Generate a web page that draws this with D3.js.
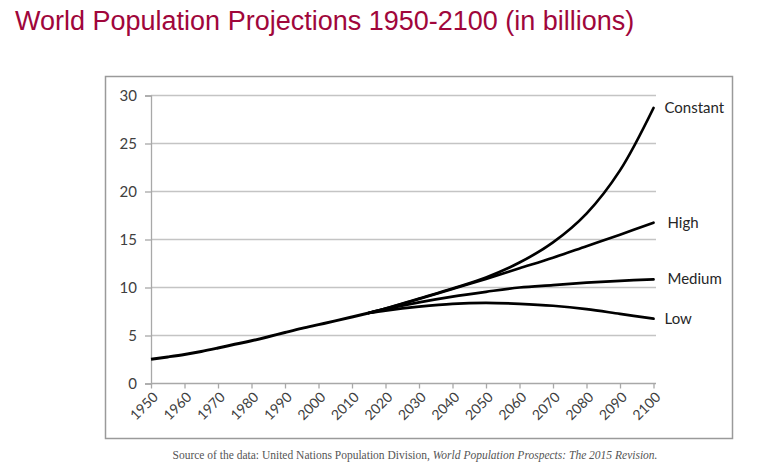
<!DOCTYPE html>
<html>
<head>
<meta charset="utf-8">
<script src="https://d3js.org/d3.v7.min.js"></script>
<style>
  body { margin: 0; background: #fff; }
  svg { display: block; }
</style>
</head>
<body>
<svg width="778" height="469"></svg>
<script>
// estimated (billions)
var histYears = [1950, 1955, 1960, 1965, 1970, 1975, 1980, 1985, 1990, 1995, 2000, 2005, 2010, 2015];
var histValues = [2.53, 2.77, 3.03, 3.34, 3.70, 4.08, 4.45, 4.87, 5.31, 5.74, 6.13, 6.52, 6.93, 7.35];

var projYears = [2015, 2020, 2030, 2040, 2050, 2060, 2070, 2080, 2090, 2100];
var constantValues = [7.35, 7.8, 8.85, 9.9, 11.05, 12.6, 14.7, 17.7, 22.2, 28.7];
var highValues     = [7.35, 7.8, 8.8, 9.85, 10.9, 12.0, 13.1, 14.3, 15.5, 16.75];
var mediumValues   = [7.35, 7.75, 8.45, 9.05, 9.55, 10.0, 10.25, 10.5, 10.7, 10.85];
var lowValues      = [7.35, 7.6, 8.0, 8.3, 8.4, 8.3, 8.1, 7.75, 7.25, 6.75];

var seriesNames = ['Constant', 'High', 'Medium', 'Low'];
var tickYears = [1950, 1960, 1970, 1980, 1990, 2000, 2010, 2020, 2030, 2040, 2050, 2060, 2070, 2080, 2090, 2100];
var yTicks = [0, 5, 10, 15, 20, 25, 30];

var svg = d3.select('svg');

// title
svg.append('text')
  .attr('x', 15).attr('y', 30)
  .attr('font-family', 'Liberation Sans, Arial, sans-serif')
  .attr('font-size', 27)
  .attr('fill', '#a0063b')
  .text('World Population Projections 1950-2100 (in billions)');

// frame
svg.append('rect')
  .attr('x', 105.5).attr('y', 76.5)
  .attr('width', 627).attr('height', 362)
  .attr('fill', 'none')
  .attr('stroke', '#9a9a9a')
  .attr('stroke-width', 1.5);

var x = d3.scaleLinear().domain([1950, 2100]).range([151, 653.5]);
var y = d3.scaleLinear().domain([0, 30]).range([383.5, 95.5]);

// gridlines
svg.append('g')
  .selectAll('line')
  .data(yTicks.filter(function(d) { return d > 0; }))
  .enter().append('line')
  .attr('x1', 151).attr('x2', 656)
  .attr('y1', function(d) { return y(d); })
  .attr('y2', function(d) { return y(d); })
  .attr('stroke', '#c4c4c4')
  .attr('stroke-width', 1.3);

// y axis
var yAxis = svg.append('g')
  .attr('transform', 'translate(151,0)')
  .call(d3.axisLeft(y).tickValues(yTicks).tickSize(6).tickPadding(8));
yAxis.select('.domain').attr('stroke', '#a8a8a8').attr('stroke-width', 1.3);
yAxis.selectAll('.tick line').attr('stroke', '#a8a8a8').attr('stroke-width', 1.3);
yAxis.selectAll('text')
  .attr('font-family', 'Lato, "Open Sans", sans-serif')
  .attr('font-size', 15)
  .attr('fill', '#404040');

// x axis
var xAxis = svg.append('g')
  .attr('transform', 'translate(0,383.5)')
  .call(d3.axisBottom(x).tickValues(tickYears).tickFormat(d3.format('d')).tickSize(5).tickSizeOuter(0));
xAxis.select('.domain').attr('stroke', '#a8a8a8').attr('stroke-width', 1.3)
  .attr('d', 'M151,0H656');
xAxis.selectAll('.tick line').attr('stroke', '#a8a8a8').attr('stroke-width', 1.3);
xAxis.selectAll('text')
  .attr('font-family', 'Lato, "Open Sans", sans-serif')
  .attr('font-size', 14)
  .attr('fill', '#404040')
  .style('text-anchor', 'end')
  .attr('x', 0).attr('y', 0)
  .attr('dy', '0.35em')
  .attr('transform', 'translate(4,11) rotate(-45)');

// lines
var histLine = d3.line()
  .x(function(d) { return x(d[0]); })
  .y(function(d) { return y(d[1]); })
  .curve(d3.curveMonotoneX);
var projLine = d3.line()
  .x(function(d) { return x(d[0]); })
  .y(function(d) { return y(d[1]); })
  .curve(d3.curveCatmullRom.alpha(0.5));

svg.append('path')
  .datum(d3.zip(histYears, histValues))
  .attr('d', histLine)
  .attr('fill', 'none')
  .attr('stroke', '#000')
  .attr('stroke-width', 3);

var projections = [constantValues, highValues, mediumValues, lowValues];
projections.forEach(function(vals, i) {
  var pts = d3.zip(projYears, vals);
  svg.append('path')
    .datum(pts)
    .attr('d', projLine)
    .attr('fill', 'none')
    .attr('stroke', '#000')
    .attr('stroke-width', 2.7)
    .attr('stroke-linecap', 'round');
  var last = pts[pts.length - 1];
  svg.append('text')
    .attr('x', x(last[0]) + (seriesNames[i] === 'Constant' || seriesNames[i] === 'Low' ? 11 : 14))
    .attr('y', y(last[1]) + 5)
    .attr('font-family', 'Lato, "Open Sans", sans-serif')
    .attr('font-size', 15)
    .attr('fill', '#262626')
    .text(seriesNames[i]);
});

// source note
var src = svg.append('text')
  .attr('x', 415).attr('y', 459)
  .attr('text-anchor', 'middle')
  .attr('font-family', 'Liberation Serif, "Times New Roman", serif')
  .attr('font-size', 11.5)
  .attr('fill', '#555');
src.append('tspan').text('Source of the data: United Nations Population Division, ');
src.append('tspan').attr('font-style', 'italic').text('World Population Prospects: The 2015 Revision.');
</script>
</body>
</html>
